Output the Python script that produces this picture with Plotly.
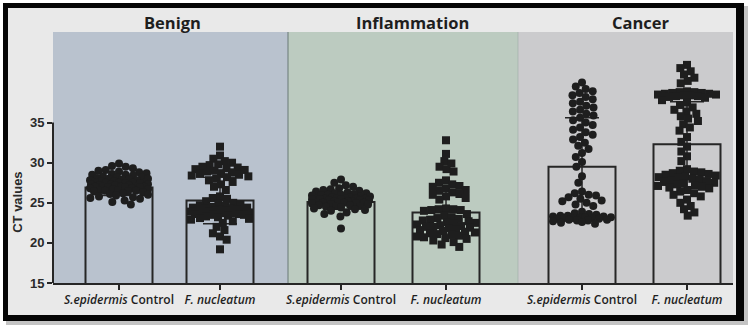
import math
import plotly.graph_objects as go

# ---------------- data ----------------
groups = ["Benign", "Inflammation", "Cancer"]
categories = ["<i>S.epidermis</i> Control", "<i>F. nucleatum</i>"]

benign_means = [26.9, 25.3]
inflammation_means = [25.1, 23.8]
cancer_means = [29.5, 32.3]

benign_sd = [1.0, 2.9]
inflammation_sd = [0.9, 2.7]
cancer_sd = [6.1, 5.3]

benign_sepi = [29.9, 29.6, 29.5, 29.3, 29.1, 29.0, 28.9, 28.8, 28.7, 28.6, 28.5, 28.5, 28.4, 28.3,
               28.2, 28.2, 28.1, 28.0, 28.0, 27.9, 27.9, 27.8, 27.8, 27.7, 27.7, 27.6, 27.6, 27.5,
               27.5, 27.5, 27.4, 27.4, 27.3, 27.3, 27.3, 27.2, 27.2, 27.2, 27.1, 27.1, 27.0, 27.0,
               27.0, 26.9, 26.9, 26.9, 26.8, 26.8, 26.7, 26.7, 26.6, 26.6, 26.5, 26.5, 26.4, 26.4,
               26.3, 26.2, 26.1, 26.0, 25.9, 25.8, 25.7, 25.6, 25.5, 25.3, 25.1, 24.8]
benign_fnuc = [32.0, 30.9, 30.5, 30.2, 30.0, 29.8, 29.7, 29.5, 29.4, 29.3, 29.2, 29.1, 29.0, 28.9,
               28.8, 28.7, 28.6, 28.5, 28.4, 28.3, 28.2, 28.0, 27.8, 27.6, 27.3, 27.0, 26.6,
               25.8, 25.6, 25.5,
               25.2, 25.0, 24.9, 24.8, 24.7, 24.6, 24.5, 24.4, 24.4, 24.3, 24.3, 24.2, 24.2, 24.1,
               24.1, 24.0, 24.0, 23.9, 23.9, 23.8, 23.8, 23.7, 23.7, 23.6, 23.6, 23.5, 23.5, 23.4,
               23.3, 23.2, 23.1, 23.0, 22.9, 22.7, 22.5,
               22.0, 21.6, 21.2, 20.8, 20.4, 19.2]
inflammation_sepi = [27.9, 27.5, 27.2, 27.0, 26.8, 26.7, 26.6, 26.5, 26.4, 26.3, 26.2, 26.2, 26.1,
                     26.0, 26.0, 25.9, 25.9, 25.8, 25.8, 25.7, 25.7, 25.6, 25.6, 25.6, 25.5, 25.5,
                     25.5, 25.4, 25.4, 25.4, 25.3, 25.3, 25.3, 25.2, 25.2, 25.2, 25.1, 25.1, 25.0,
                     25.0, 25.0, 24.9, 24.9, 24.8, 24.8, 24.7, 24.7, 24.6, 24.6, 24.5, 24.4, 24.3,
                     24.2, 24.1, 24.0, 23.8, 23.6, 23.3, 21.8]
inflammation_fnuc = [32.8, 31.1, 30.2, 29.9, 29.5, 29.2, 28.9,
                     27.8, 27.5, 27.3, 27.1, 27.0, 26.8, 26.6, 26.5, 26.3, 26.1, 26.0, 25.8, 25.6, 25.4,
                     24.3, 24.2, 24.2, 24.1, 24.1, 24.0,
                     23.6, 23.4, 23.2, 23.1, 23.0, 22.9, 22.8, 22.7, 22.6, 22.5, 22.4, 22.3, 22.2,
                     22.1, 22.0, 22.0, 21.9, 21.8, 21.7, 21.6, 21.5, 21.4, 21.3, 21.2, 21.1, 21.0,
                     20.9, 20.8, 20.7, 20.6, 20.5, 20.3, 20.1, 19.8, 19.5]
cancer_sepi = [40.0, 39.5, 39.2, 38.9, 38.7, 38.4, 38.2, 37.9, 37.6, 37.4, 37.1, 36.9, 36.6, 36.4,
               36.1, 35.9, 35.6, 35.3, 35.0, 34.7, 34.4, 34.1, 33.8, 33.5, 33.2, 32.9, 32.5, 32.1,
               31.7, 31.2, 30.7, 30.1, 29.5,
               28.3, 27.5,
               26.4, 26.2, 26.0, 25.9, 25.7, 25.5, 25.3, 25.2, 25.0, 24.8, 24.6,
               23.9, 23.7, 23.6, 23.5, 23.4, 23.4, 23.3, 23.3, 23.2, 23.2, 23.2, 23.1, 23.1, 23.1,
               23.0, 23.0, 22.9, 22.9, 22.8, 22.8, 22.7, 22.6, 22.5, 22.4]
cancer_fnuc = [42.2, 41.8, 41.4, 41.0, 40.6, 40.2, 39.9,
               38.9, 38.8, 38.8, 38.7, 38.7, 38.6, 38.6, 38.5, 38.5, 38.4, 38.4, 38.3, 38.3, 38.2, 38.1,
               37.8, 37.5, 37.2, 36.9, 36.6, 36.4, 36.1, 35.8, 35.5, 35.2, 34.8, 34.4, 34.0,
               33.2, 32.6, 32.0, 31.4, 30.8, 30.2,
               29.2, 29.0, 28.9, 28.8, 28.7, 28.6, 28.5, 28.4, 28.3, 28.2, 28.1, 28.0, 27.9, 27.8,
               27.7, 27.6, 27.5, 27.4, 27.3, 27.2, 27.1, 27.0, 26.9, 26.8, 26.6, 26.4, 26.2, 26.0, 25.8,
               25.4, 25.0, 24.6, 24.2, 23.8, 23.4]

y_ticks = [15, 20, 25, 30, 35]
y_title = "CT values"

# ---------------- layout geometry ----------------
W, H = 750, 328
L, R, T, B = 53, 17, 32, 45
PW, PH = W - L - R, H - T - B
Y_RANGE = [15, 46.3]
PX_PER_UNIT = PH / (Y_RANGE[1] - Y_RANGE[0])


def px(xp):
    return (xp - L) / PW


def py(yp):
    return (H - B - yp) / PH


def swarm(values, d=7.4, half=29.0):
    """Beeswarm layout (pixel offsets) computed from the values."""
    placed = []
    out = []
    for v in values:
        y = v * PX_PER_UNIT
        cands = [0.0]
        for xj, yj in placed:
            dy = y - yj
            if abs(dy) < d:
                dx = math.sqrt(d * d - dy * dy)
                cands += [xj + dx, xj - dx]
        cands.sort(key=lambda c: (abs(c), c))
        chosen = None
        for c in cands:
            if abs(c) <= half and all((c - xj) ** 2 + (y - yj) ** 2 >= d * d - 1e-6
                                      for xj, yj in placed):
                chosen = c
                break
        if chosen is None:
            best, best_md = 0.0, -1
            n = 29
            for s in range(-n, n + 1):
                c = half * s / n
                md = min(((c - xj) ** 2 + (y - yj) ** 2) for xj, yj in placed)
                if md > best_md + 1e-9:
                    best, best_md = c, md
            chosen = best
        placed.append((chosen, y))
        out.append(chosen)
    return out


panel_px = [(53, 288), (288, 518), (518, 733)]
first_center_px = [119, 341, 582]
spacing_px = [101, 105, 105]
panel_colors = ["#b9c2ce", "#bccbc0", "#cbcbcd"]
title_px = [172, 412, 641]

means = [benign_means, inflammation_means, cancer_means]
sds = [benign_sd, inflammation_sd, cancer_sd]
points = [(benign_sepi, benign_fnuc), (inflammation_sepi, inflammation_fnuc),
          (cancer_sepi, cancer_fnuc)]

DARK = "#262626"
fig = go.Figure()

layout_axes = {}
for i in range(3):
    xa = "x" if i == 0 else f"x{i+1}"
    key = "xaxis" if i == 0 else f"xaxis{i+1}"
    p0, p1 = panel_px[i]
    sp = spacing_px[i]
    a = -(first_center_px[i] - p0) / sp
    b = a + (p1 - p0) / sp
    layout_axes[key] = dict(
        domain=[px(p0), px(p1)], anchor="y", range=[a, b],
        tickvals=[0, 1], ticktext=categories,
        showline=True, linecolor=DARK, linewidth=2, ticks="outside", ticklen=5,
        tickwidth=1.5, tickcolor=DARK, showgrid=False, zeroline=False,
        tickfont=dict(family="Open Sans", size=12, color="#1e1e1e", weight=600),
        fixedrange=True,
    )
    fig.add_trace(go.Bar(
        x=[0, 1], y=means[i], xaxis=xa, yaxis="y", width=67 / sp,
        marker=dict(color="rgba(0,0,0,0)", line=dict(color=DARK, width=2)),
        error_y=dict(type="data", array=sds[i], visible=True, color=DARK,
                     thickness=1.5, width=17),
        showlegend=False, hoverinfo="skip",
    ))
    for j, sym in enumerate(["circle", "square"]):
        vals = points[i][j]
        offs = swarm(vals)
        fig.add_trace(go.Scatter(
            x=[j + o / sp for o in offs], y=vals, xaxis=xa, yaxis="y", mode="markers",
            marker=dict(symbol=sym, size=8, color="#1e1e1e", line=dict(width=0)),
            showlegend=False, hovertext=[categories[j]] * len(vals),
        ))

shapes = [
    dict(type="rect", xref="paper", yref="paper", x0=px(6), x1=px(748), y0=py(6), y1=py(325),
         fillcolor="#c4c4c4", line=dict(width=0), layer="below"),
    dict(type="rect", xref="paper", yref="paper", x0=px(3), x1=px(744), y0=py(3), y1=py(321),
         fillcolor="#050505", line=dict(width=0), layer="below"),
    dict(type="rect", xref="paper", yref="paper", x0=px(8), x1=px(736), y0=py(8), y1=py(315),
         fillcolor="#e9e9e9", line=dict(width=0), layer="below"),
]
for i in range(3):
    p0, p1 = panel_px[i]
    shapes.append(dict(type="rect", xref="paper", yref="paper", x0=px(p0), x1=px(p1),
                       y0=0, y1=1, fillcolor=panel_colors[i], line=dict(width=0),
                       layer="below"))
shapes.append(dict(type="line", xref="paper", yref="paper", x0=px(288), x1=px(288), y0=0, y1=1,
                   line=dict(color="rgba(90,105,100,0.55)", width=1.5), layer="below"))
shapes.append(dict(type="line", xref="paper", yref="paper", x0=px(518), x1=px(518), y0=0, y1=1,
                   line=dict(color="rgba(150,165,160,0.5)", width=1), layer="below"))
shapes.append(dict(type="line", xref="paper", yref="y", x0=0, x1=0, y0=15, y1=35,
                   line=dict(color=DARK, width=2)))

annotations = []
for i, g in enumerate(groups):
    annotations.append(dict(text=g, xref="paper", yref="paper", x=px(title_px[i]), y=py(22),
                            showarrow=False, xanchor="center", yanchor="middle",
                            font=dict(family="Open Sans", size=16.5, color="#1e1e1e",
                                      weight=700)))
annotations.append(dict(text=y_title, xref="paper", yref="y", x=px(18), y=25, textangle=-90,
                        showarrow=False, xanchor="center", yanchor="middle",
                        font=dict(family="Liberation Sans", size=13, color="#2a2a2a",
                                  weight=700)))

fig.update_layout(
    width=W, height=H, margin=dict(l=L, r=R, t=T, b=B),
    paper_bgcolor="white", plot_bgcolor="rgba(0,0,0,0)",
    showlegend=False, barmode="overlay",
    yaxis=dict(range=Y_RANGE, anchor="x", tickvals=y_ticks, ticks="outside", ticklen=5,
               tickwidth=1.5, tickcolor=DARK, showline=False, showgrid=False, zeroline=False,
               tickfont=dict(family="Liberation Sans", size=13, color="#2a2a2a", weight=700),
               fixedrange=True),
    shapes=shapes, annotations=annotations,
    **layout_axes,
)

fig.write_html("out.html", config={"displayModeBar": False},
               post_script="document.body.style.margin='0';")
